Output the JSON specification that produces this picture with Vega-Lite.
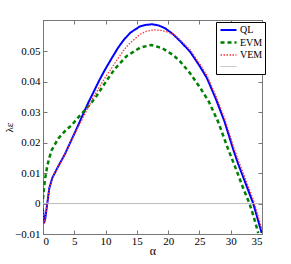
{
  "$schema": "https://vega.github.io/schema/vega-lite/v6.json",
  "width": 219,
  "height": 214,
  "autosize": {"type": "none"},
  "padding": {"left": 43, "top": 20, "right": 29, "bottom": 30},
  "background": "white",
  "config": {
    "font": "Liberation Serif, serif",
    "view": {"stroke": "#777777"},
    "axis": {"grid": false, "domainColor": "#777777", "tickColor": "#777777", "labelColor": "black", "titleColor": "black", "labelFont": "Liberation Serif, serif", "titleFont": "Liberation Serif, serif", "labelFontSize": 11, "titleFontWeight": "normal"},
    "legend": {"labelFont": "Liberation Serif, serif"}
  },
  "data": {"values": [
    {"a": 0, "v": -0.0015, "s": "QL"},
    {"a": 0.15, "v": -0.0065, "s": "QL"},
    {"a": 0.35, "v": -0.005, "s": "QL"},
    {"a": 0.55, "v": -0.002, "s": "QL"},
    {"a": 0.75, "v": 0.001, "s": "QL"},
    {"a": 1.0, "v": 0.005, "s": "QL"},
    {"a": 1.5, "v": 0.0085, "s": "QL"},
    {"a": 2.5, "v": 0.0125, "s": "QL"},
    {"a": 3.5, "v": 0.0162, "s": "QL"},
    {"a": 4.3, "v": 0.0198, "s": "QL"},
    {"a": 5.4, "v": 0.0247, "s": "QL"},
    {"a": 6.5, "v": 0.0298, "s": "QL"},
    {"a": 7.25, "v": 0.0332, "s": "QL"},
    {"a": 8.05, "v": 0.0365, "s": "QL"},
    {"a": 9, "v": 0.0405, "s": "QL"},
    {"a": 10, "v": 0.0443, "s": "QL"},
    {"a": 11, "v": 0.0478, "s": "QL"},
    {"a": 12, "v": 0.0512, "s": "QL"},
    {"a": 13, "v": 0.054, "s": "QL"},
    {"a": 14, "v": 0.0562, "s": "QL"},
    {"a": 15.5, "v": 0.0582, "s": "QL"},
    {"a": 16.5, "v": 0.0587, "s": "QL"},
    {"a": 17.4, "v": 0.0589, "s": "QL"},
    {"a": 18.5, "v": 0.0585, "s": "QL"},
    {"a": 19.5, "v": 0.0576, "s": "QL"},
    {"a": 20.8, "v": 0.0556, "s": "QL"},
    {"a": 22, "v": 0.0532, "s": "QL"},
    {"a": 23.5, "v": 0.0499, "s": "QL"},
    {"a": 25, "v": 0.0453, "s": "QL"},
    {"a": 26.2, "v": 0.0412, "s": "QL"},
    {"a": 27.6, "v": 0.0345, "s": "QL"},
    {"a": 29, "v": 0.027, "s": "QL"},
    {"a": 30.4, "v": 0.0178, "s": "QL"},
    {"a": 31.2, "v": 0.013, "s": "QL"},
    {"a": 32.4, "v": 0.0065, "s": "QL"},
    {"a": 33.6, "v": 0.0, "s": "QL"},
    {"a": 34.3, "v": -0.005, "s": "QL"},
    {"a": 34.95, "v": -0.0097, "s": "QL"},
    {"a": 0, "v": 0.0015, "s": "EVM"},
    {"a": 0.15, "v": 0.005, "s": "EVM"},
    {"a": 0.4, "v": 0.009, "s": "EVM"},
    {"a": 0.7, "v": 0.0125, "s": "EVM"},
    {"a": 1.0, "v": 0.015, "s": "EVM"},
    {"a": 1.4, "v": 0.0176, "s": "EVM"},
    {"a": 2.0, "v": 0.0198, "s": "EVM"},
    {"a": 2.45, "v": 0.0214, "s": "EVM"},
    {"a": 3.5, "v": 0.0238, "s": "EVM"},
    {"a": 4.6, "v": 0.0258, "s": "EVM"},
    {"a": 5.5, "v": 0.028, "s": "EVM"},
    {"a": 6.45, "v": 0.0301, "s": "EVM"},
    {"a": 7.5, "v": 0.0325, "s": "EVM"},
    {"a": 8.5, "v": 0.0352, "s": "EVM"},
    {"a": 10.2, "v": 0.0405, "s": "EVM"},
    {"a": 11.5, "v": 0.0443, "s": "EVM"},
    {"a": 13.4, "v": 0.0485, "s": "EVM"},
    {"a": 15.5, "v": 0.0512, "s": "EVM"},
    {"a": 17.3, "v": 0.0521, "s": "EVM"},
    {"a": 19, "v": 0.0511, "s": "EVM"},
    {"a": 20.8, "v": 0.0488, "s": "EVM"},
    {"a": 22, "v": 0.0465, "s": "EVM"},
    {"a": 23.5, "v": 0.0428, "s": "EVM"},
    {"a": 25, "v": 0.0384, "s": "EVM"},
    {"a": 26.5, "v": 0.0335, "s": "EVM"},
    {"a": 28, "v": 0.0268, "s": "EVM"},
    {"a": 29.6, "v": 0.0178, "s": "EVM"},
    {"a": 31, "v": 0.0105, "s": "EVM"},
    {"a": 32, "v": 0.005, "s": "EVM"},
    {"a": 33, "v": 0.0, "s": "EVM"},
    {"a": 33.7, "v": -0.0045, "s": "EVM"},
    {"a": 34.4, "v": -0.0097, "s": "EVM"},
    {"a": 0, "v": -0.0015, "s": "VEM"},
    {"a": 0.15, "v": -0.0065, "s": "VEM"},
    {"a": 0.35, "v": -0.005, "s": "VEM"},
    {"a": 0.55, "v": -0.002, "s": "VEM"},
    {"a": 0.75, "v": 0.001, "s": "VEM"},
    {"a": 1.0, "v": 0.005, "s": "VEM"},
    {"a": 1.5, "v": 0.0085, "s": "VEM"},
    {"a": 2.5, "v": 0.0125, "s": "VEM"},
    {"a": 3.5, "v": 0.0162, "s": "VEM"},
    {"a": 4.3, "v": 0.0198, "s": "VEM"},
    {"a": 5.4, "v": 0.0243, "s": "VEM"},
    {"a": 6.5, "v": 0.0287, "s": "VEM"},
    {"a": 7.25, "v": 0.0317, "s": "VEM"},
    {"a": 8.05, "v": 0.0349, "s": "VEM"},
    {"a": 9.1, "v": 0.0386, "s": "VEM"},
    {"a": 10, "v": 0.0416, "s": "VEM"},
    {"a": 10.7, "v": 0.0437, "s": "VEM"},
    {"a": 12, "v": 0.0477, "s": "VEM"},
    {"a": 13, "v": 0.0507, "s": "VEM"},
    {"a": 14, "v": 0.0529, "s": "VEM"},
    {"a": 15.5, "v": 0.0556, "s": "VEM"},
    {"a": 16.5, "v": 0.0566, "s": "VEM"},
    {"a": 17.9, "v": 0.0571, "s": "VEM"},
    {"a": 19, "v": 0.0568, "s": "VEM"},
    {"a": 20.3, "v": 0.0561, "s": "VEM"},
    {"a": 20.8, "v": 0.0558, "s": "VEM"},
    {"a": 22, "v": 0.0536, "s": "VEM"},
    {"a": 23.5, "v": 0.0505, "s": "VEM"},
    {"a": 25, "v": 0.0461, "s": "VEM"},
    {"a": 26.2, "v": 0.0421, "s": "VEM"},
    {"a": 27.6, "v": 0.0355, "s": "VEM"},
    {"a": 29, "v": 0.0281, "s": "VEM"},
    {"a": 30.4, "v": 0.019, "s": "VEM"},
    {"a": 31.2, "v": 0.0143, "s": "VEM"},
    {"a": 32.4, "v": 0.0078, "s": "VEM"},
    {"a": 33.6, "v": 0.0013, "s": "VEM"},
    {"a": 34.3, "v": -0.0035, "s": "VEM"},
    {"a": 35, "v": -0.0085, "s": "VEM"},
    {"a": 0, "v": 0, "s": "_"},
    {"a": 35, "v": 0, "s": "_"}
  ]},
  "layer": [
    {
      "encoding": {
        "x": {"field": "a", "type": "quantitative", "scale": {"domain": [0, 35], "nice": false, "zero": false},
              "axis": {"values": [0, 5, 10, 15, 20, 25, 30, 35], "tickSize": -4, "labelPadding": 5, "title": "α", "titleFontSize": 12, "titleBaseline": "alphabetic", "titleY": 20}},
        "y": {"field": "v", "type": "quantitative", "scale": {"domain": [-0.01, 0.0603], "nice": false, "zero": false},
              "axis": {"values": [-0.01, 0, 0.01, 0.02, 0.03, 0.04, 0.05], "format": "~g", "tickSize": -4, "labelPadding": 7, "title": "λε", "titleFontSize": 11, "titleBaseline": "middle", "titleX": -34, "titleY": 107, "titleAngle": 270}},
        "color": {"field": "s", "type": "nominal",
          "scale": {"domain": ["QL", "EVM", "VEM", "_"], "range": ["#0000ff", "#008000", "#ff3333", "#bbbbbb"]},
          "legend": {"title": null, "orient": "none", "legendX": 173, "legendY": 2, "padding": 2, "rowPadding": 1,
                     "strokeColor": "black", "fillColor": "white", "symbolType": "M-0.8,0H2.4", "symbolSize": 100,
                     "labelOffset": 9, "labelFontSize": 10, "labelExpr": "datum.label == '_' ? '' : datum.label"}},
        "strokeDash": {"field": "s", "type": "nominal",
          "scale": {"domain": ["QL", "EVM", "VEM", "_"], "range": [[1, 0], [4, 3], [1.5, 1.5], [1, 0]]}},
        "strokeWidth": {"field": "s", "type": "nominal",
          "scale": {"type": "ordinal", "domain": ["QL", "EVM", "VEM", "_"], "range": [2, 2.5, 1.3, 1]}}
      },
      "layer": [
        {"transform": [{"filter": "datum.s == 'QL'"}], "mark": {"type": "line", "clip": true}},
        {"transform": [{"filter": "datum.s == 'EVM'"}], "mark": {"type": "line", "clip": true}},
        {"transform": [{"filter": "datum.s == 'VEM'"}], "mark": {"type": "line", "clip": true}},
        {"transform": [{"filter": "datum.s == '_'"}], "mark": {"type": "line", "clip": true}}
      ]
    },
    {
      "mark": {"type": "point", "opacity": 0},
      "encoding": {
        "x": {"field": "a", "type": "quantitative", "axis": {"orient": "top", "values": [0, 5, 10, 15, 20, 25, 30, 35], "labels": false, "tickSize": -4, "title": null}},
        "y": {"field": "v", "type": "quantitative", "axis": {"orient": "right", "values": [-0.01, 0, 0.01, 0.02, 0.03, 0.04, 0.05], "labels": false, "tickSize": -4, "title": null}}
      }
    }
  ],
  "resolve": {"axis": {"x": "independent", "y": "independent"}}
}
